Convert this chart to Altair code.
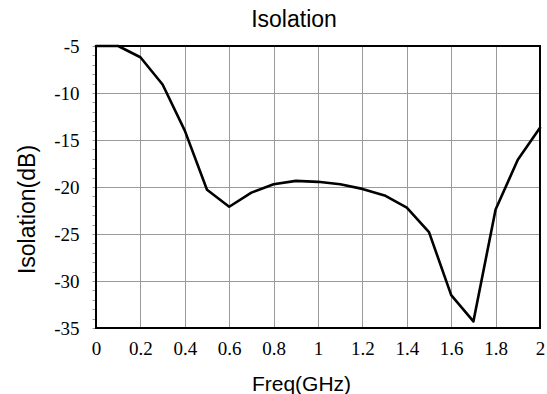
import altair as alt
import pandas as pd

# Isolation sweep, 0.1 GHz steps
freq_ghz = [0.0, 0.1, 0.2, 0.3, 0.4, 0.5, 0.6, 0.7, 0.8, 0.9, 1.0,
            1.1, 1.2, 1.3, 1.4, 1.5, 1.6, 1.7, 1.8, 1.9, 2.0]
isolation_db = [-5.0, -5.0, -6.2, -9.1, -14.0, -20.3, -22.1, -20.6, -19.7, -19.35, -19.45,
                -19.7, -20.2, -20.9, -22.2, -24.8, -31.5, -34.3, -22.4, -17.1, -13.7]

x_ticks = [0, 0.2, 0.4, 0.6, 0.8, 1, 1.2, 1.4, 1.6, 1.8, 2]
y_ticks = list(range(-35, -4))  # minor ticks every 1 dB, labels/grid every 5 dB
chart_title = ["Isolation"]

df = pd.DataFrame({"freq": freq_ghz, "iso": isolation_db})
title_df = pd.DataFrame({"label": chart_title})

GRID = "#9a9a9a"
SERIF = "Liberation Serif"
SANS = "Liberation Sans"
W, H = 444, 282

x_axis = alt.Axis(
    values=x_ticks,
    labelExpr="'' + datum.value",
    title="Freq(GHz)",
    titleFont=SANS,
    titleFontSize=21,
    titleFontWeight="normal",
    titleColor="black",
    titleX=205,
    titleY=62,
    titleAlign="center",
    titleBaseline="alphabetic",
    labelFont=SERIF,
    labelFontSize=19,
    labelColor="black",
    labelPadding=11,
    ticks=False,
    tickSize=0,
    domain=False,
    grid=True,
    gridColor=GRID,
    gridWidth=1,
    # interior lines only, the frame is drawn separately
    gridOpacity={"condition": {"test": "datum.value > 0 && datum.value < 2", "value": 1}, "value": 0},
    labelFlush=False,
)

y_axis = alt.Axis(
    values=y_ticks,
    labelExpr="datum.value % 5 === 0 ? '' + datum.value : ''",
    title="Isolation(dB)",
    titleFont=SANS,
    titleFontSize=23,
    titleFontWeight="normal",
    titleColor="black",
    titleAngle=270,
    titleX=-69,
    titleY=163,
    titleAlign="center",
    titleBaseline="middle",
    labelFont=SERIF,
    labelFontSize=19,
    labelColor="black",
    labelPadding=13,
    ticks=True,
    tickSize=4,
    tickColor=GRID,
    tickWidth=1,
    domain=False,
    grid=True,
    gridColor=GRID,
    gridWidth=1,
    gridOpacity={
        "condition": {"test": "datum.value % 5 === 0 && datum.value > -35 && datum.value < -5", "value": 1},
        "value": 0,
    },
)

curve = (
    alt.Chart(df)
    .mark_line(color="black", strokeWidth=2.6, strokeJoin="round", strokeCap="round")
    .encode(
        x=alt.X("freq:Q", scale=alt.Scale(domain=[0, 2], nice=False, zero=False), axis=x_axis),
        y=alt.Y("iso:Q", scale=alt.Scale(domain=[-35, -5], nice=False, zero=False), axis=y_axis),
    )
)

# Black frame around the plot area, above the grid
frame = (
    alt.Chart(title_df)
    .mark_rect(filled=False, stroke="black", strokeWidth=2)
    .encode(x=alt.value(0), x2=alt.value(W), y=alt.value(0), y2=alt.value(H))
)

# Chart heading, placed above the plot area
heading = (
    alt.Chart(title_df)
    .mark_text(font=SANS, fontSize=23, color="black", align="center", baseline="alphabetic")
    .encode(text="label:N", x=alt.value(198), y=alt.value(-19))
)

chart = (
    alt.layer(frame, curve, heading)
    .properties(
        width=W,
        height=H,
        autosize=alt.AutoSizeParams(type="none"),
        padding={"left": 96, "top": 46, "right": 7, "bottom": 66},
    )
    .configure_view(stroke=None)
    .configure(background="white")
)

chart.save("out.html", embed_options={"renderer": "svg", "actions": False})
